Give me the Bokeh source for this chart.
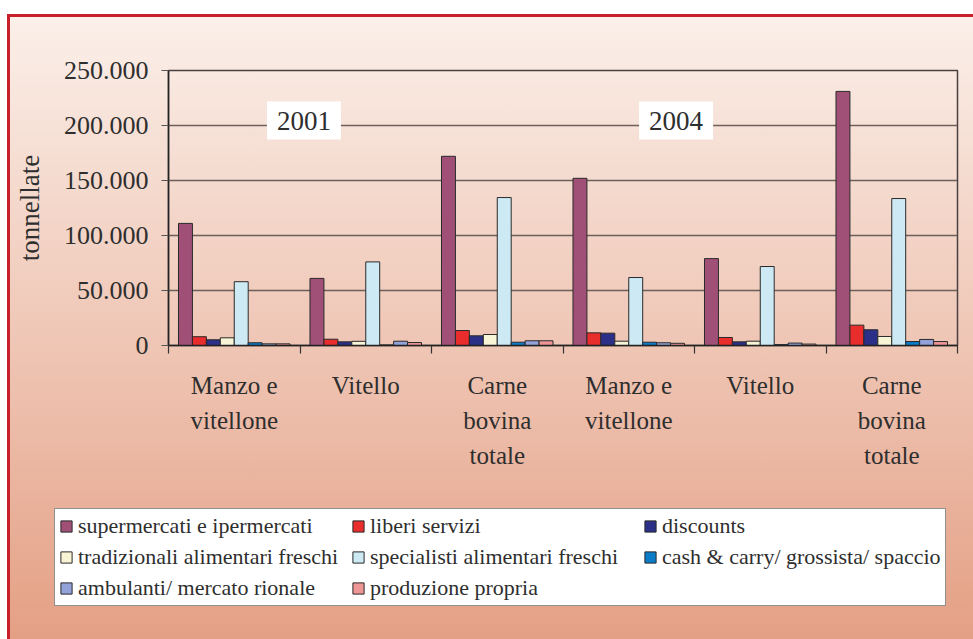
from bokeh.plotting import figure
from bokeh.models import Range1d, FixedTicker, Legend, LegendItem, Label, ColumnDataSource
from bokeh.transform import dodge
from bokeh.embed import file_html
from bokeh.resources import INLINE

# ---------------- data ----------------
title_text = "Figura 2.8 - Consumi di carne bovina in Italia per prodotto e per tipologia distributiva"
categories = ["Manzo e\nvitellone", "Vitello", "Carne\nbovina\ntotale",
              "Manzo e\nvitellone", "Vitello", "Carne\nbovina\ntotale"]
years = ["2001", "2004"]
series_names = ["supermercati e ipermercati", "liberi servizi", "discounts",
                "tradizionali alimentari freschi", "specialisti alimentari freschi",
                "cash & carry/ grossista/ spaccio", "ambulanti/ mercato rionale",
                "produzione propria"]
supermercati = [111000, 61000, 172000, 152000, 79000, 231000]
liberi_servizi = [8000, 5700, 13600, 11500, 7300, 18500]
discounts = [5200, 3300, 8800, 11200, 3300, 14300]
tradizionali = [7000, 3800, 10000, 3900, 3900, 8200]
specialisti = [58000, 76000, 134500, 61800, 71800, 133600]
cash_carry = [2500, 500, 3000, 3000, 800, 3600]
ambulanti = [1500, 3900, 4300, 2500, 2200, 5500]
produzione = [1500, 2700, 4300, 2000, 1300, 3600]
y_ticks = [0, 50000, 100000, 150000, 200000, 250000]
y_tick_labels = ["0", "50.000", "100.000", "150.000", "200.000", "250.000"]
colors = ["#a05077", "#e92c2c", "#2b2f87", "#f8f5d6", "#cde9f4", "#0a7cc8", "#93a2d8", "#ee9696"]

FONT = "Liberation Serif"
TXT = "#2e2e2e"
W = 973
H1, H2 = 500, 155
GRAD = "linear-gradient(to bottom, #fbf0ea 0%, #e39c80 100%)"
RED = "linear-gradient(#c8202a,#c8202a)"

n = len(categories)
keys = ["s0", "s1", "s2", "s3", "s4", "s5", "s6", "s7"]
series = [supermercati, liberi_servizi, discounts, tradizionali, specialisti,
          cash_carry, ambulanti, produzione]
data = {"x": [i + 0.5 for i in range(n)]}
for k, s in zip(keys, series):
    data[k] = s
source = ColumnDataSource(data)
legend_source = ColumnDataSource(dict(data))

# ---------------- main chart ----------------
p = figure(width=W, height=H1, output_backend="svg", toolbar_location=None,
           x_range=Range1d(0, n), y_range=Range1d(0, 250000),
           min_border_left=168, min_border_right=16, min_border_top=86, min_border_bottom=H1 - 361)

p.border_fill_color = None
p.background_fill_color = None
p.outline_line_color = "#4a4040"
p.outline_line_width = 1.5
p.styles = {
    "margin-top": "-16px",
    "background": (f"{RED} 7px 30px / 100% 3px no-repeat, "
                   f"{RED} 7px 30px / 3px 100% no-repeat, "
                   f"{GRAD} 7px 30px / 100% {H1 + H2}px no-repeat, white"),
}

bar_w = 0.106
for i, (k, col) in enumerate(zip(keys, colors)):
    p.vbar(x=dodge("x", (i - 3.5) * bar_w, range=p.x_range), top=k, width=bar_w,
           source=source, fill_color=col, line_color="#2a2a2a", line_width=1)

# y axis
yt = FixedTicker(ticks=y_ticks)
p.yaxis.ticker = yt
p.ygrid.ticker = yt
p.yaxis.major_label_overrides = {t: l for t, l in zip(y_ticks, y_tick_labels)}
p.yaxis.major_label_text_font = FONT
p.yaxis.major_label_text_font_size = "26px"
p.yaxis.major_label_text_color = TXT
p.yaxis.major_tick_out = 7
p.yaxis.major_tick_in = 0
p.yaxis.major_label_standoff = 13
p.yaxis.minor_tick_line_color = None
p.yaxis.axis_line_color = "#222222"
p.yaxis.axis_line_width = 1.5
p.yaxis.major_tick_line_color = "#555555"
p.yaxis.axis_label = "tonnellate"
p.yaxis.axis_label_text_font = FONT
p.yaxis.axis_label_text_font_size = "27px"
p.yaxis.axis_label_text_font_style = "normal"
p.yaxis.axis_label_text_color = TXT
p.yaxis.axis_label_standoff = 16
p.ygrid.grid_line_color = "#655855"
p.ygrid.grid_line_alpha = 0.95
p.ygrid.grid_line_width = 1.5

# x axis
xt = FixedTicker(ticks=[i + 0.5 for i in range(n)], minor_ticks=list(range(n + 1)))
p.xaxis.ticker = xt
p.xaxis.major_label_overrides = {i + 0.5: c for i, c in enumerate(categories)}
p.xaxis.major_label_text_font = FONT
p.xaxis.major_label_text_font_size = "25px"
p.xaxis.major_label_text_color = TXT
p.xaxis.major_label_text_line_height = 1.3
p.xaxis.major_tick_line_color = None
p.xaxis.major_tick_out = 0
p.xaxis.major_tick_in = 0
p.xaxis.major_label_standoff = 18
p.xaxis.minor_tick_out = 8
p.xaxis.minor_tick_in = 0
p.xaxis.minor_tick_line_color = "#333333"
p.xaxis.minor_tick_line_width = 1.2
p.xaxis.axis_line_color = "#222222"
p.xaxis.axis_line_width = 1.5
p.xgrid.visible = False

# year labels
for xpos, yr in zip([1.03, 3.86], years):
    p.add_layout(Label(x=xpos, y=204500, text=yr, text_font=FONT, text_font_size="27px",
                       text_color=TXT, text_align="center", text_baseline="middle",
                       background_fill_color="white", background_fill_alpha=1.0,
                       padding=dict(left=10, right=10, top=10, bottom=10)))

# figure caption (cropped at the top as in the source)
p.add_layout(Label(x=-1.156, y=311000, text=title_text, text_font=FONT, text_font_size="20px",
                   text_color=TXT, text_align="left", text_baseline="alphabetic"))

# ---------------- legend strip (separate root, own full-width frame) ----------------
q = figure(width=W, height=H2, output_backend="svg", toolbar_location=None,
           x_range=Range1d(-3, -2), y_range=Range1d(0, 250000),
           x_axis_type=None, y_axis_type=None,
           min_border_left=0, min_border_right=0, min_border_top=0, min_border_bottom=0)
q.border_fill_color = None
q.background_fill_color = None
q.outline_line_color = None
q.xgrid.visible = False
q.ygrid.visible = False
q.styles = {
    "background": (f"{RED} 7px 0px / 3px 100% no-repeat, "
                   f"{GRAD} 7px {30 - H1}px / 100% {H1 + H2}px no-repeat, white"),
}

items = []
for i, (k, name, col) in enumerate(zip(keys, series_names, colors)):
    r = q.vbar(x="x", top=k, width=bar_w, source=legend_source,
               fill_color=col, line_color="#2a2a2a", line_width=1)
    items.append(LegendItem(label=name, renderers=[r]))

legend = Legend(items=items, location=(54, 33), orientation="horizontal", ncols=3,
                label_text_font=FONT, label_text_font_size="22px", label_text_color=TXT,
                glyph_width=14, glyph_height=14, label_standoff=5, spacing=5, label_width=268,
                padding=4, margin=0, border_line_color="#222222", border_line_width=1.5,
                background_fill_color="white", background_fill_alpha=1.0)
q.add_layout(legend)

open("out.html", "w").write(file_html([p, q], INLINE))
